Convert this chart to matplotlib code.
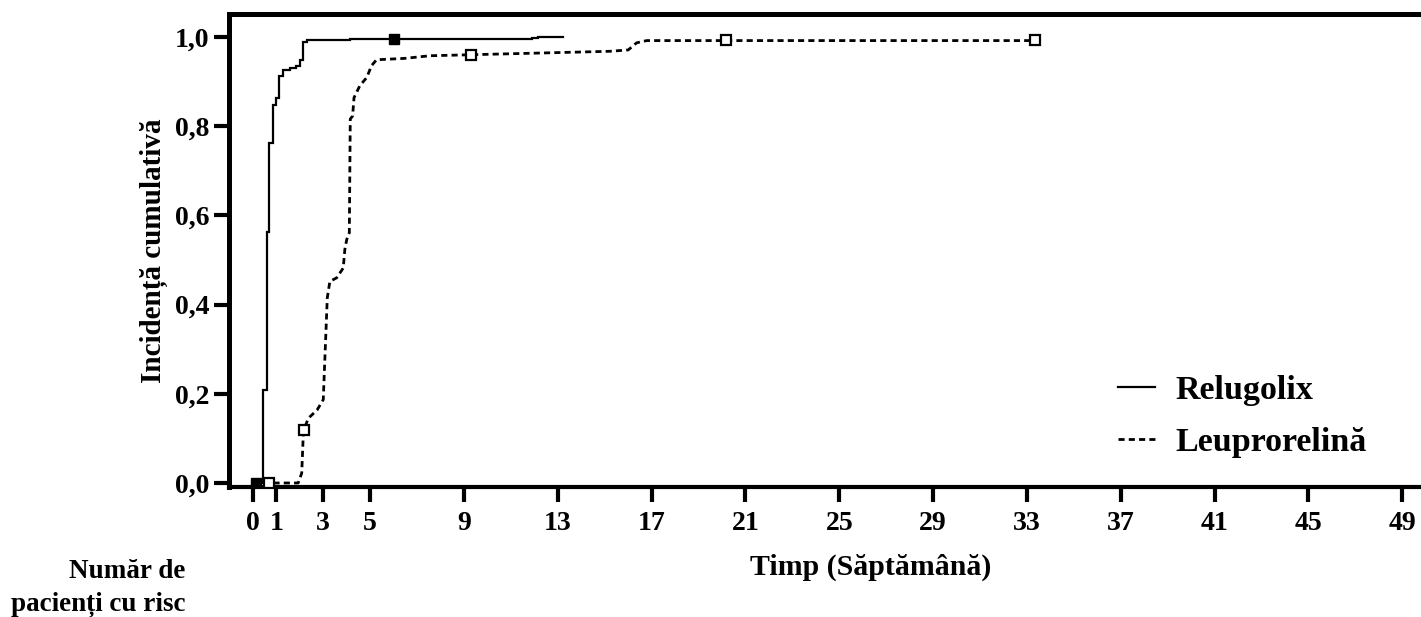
import matplotlib
matplotlib.use("Agg")
import matplotlib.pyplot as plt
import numpy as np

# ---- data (weeks, cumulative incidence) ----
relugolix_t = [0, 0.41, 0.58, 0.70, 0.87, 0.98, 1.12, 1.29, 1.58, 1.83, 2.00, 2.15, 2.32, 4.14, 11.88, 12.15, 13.2]
relugolix_y = [0, 0.209, 0.562, 0.763, 0.847, 0.864, 0.913, 0.926, 0.930, 0.934, 0.949, 0.989, 0.994, 0.995, 0.998, 1.0, 1.0]
relugolix_cens_t = [0.15, 6.0]
relugolix_cens_y = [0.0, 0.995]

leupro_t = [0.0, 1.93, 2.08, 2.15, 2.17, 2.36, 2.74, 3.00, 3.03, 3.17, 3.28, 3.57, 3.85, 3.92, 4.00, 4.11,
            4.15, 4.25, 4.31, 4.56, 4.85, 5.06, 5.27, 6.45, 7.55, 12.17, 15.22, 16.0, 16.36, 16.79, 33.35]
leupro_y = [0.0, 0.0, 0.022, 0.112, 0.119, 0.145, 0.164, 0.187, 0.229, 0.415, 0.452, 0.460, 0.482, 0.524, 0.546, 0.561,
            0.816, 0.823, 0.864, 0.891, 0.909, 0.936, 0.949, 0.952, 0.958, 0.964, 0.968, 0.971, 0.987, 0.992, 0.992]
leupro_cens_t = [0.7, 2.17, 9.3, 20.17, 33.35]
leupro_cens_y = [0.0, 0.119, 0.960, 0.994, 0.994]

xticks = [0, 1, 3, 5, 9, 13, 17, 21, 25, 29, 33, 37, 41, 45, 49]
yticks = [0.0, 0.2, 0.4, 0.6, 0.8, 1.0]
ytick_labels = ["0,0", "0,2", "0,4", "0,6", "0,8", "1,0"]
series_labels = ["Relugolix", "Leuprorelină"]

plt.rcParams['font.family'] = ['Liberation Serif', 'DejaVu Serif']
plt.rcParams['font.weight'] = 'bold'

fig = plt.figure(figsize=(14.21, 6.17), dpi=100)
ax = fig.add_axes([229/1421, 130/617, 1 - 229/1421, (487-14)/617])

l1, = ax.plot(relugolix_t, relugolix_y, drawstyle='steps-post', color='black', lw=1.6, solid_joinstyle='miter')
ax.plot(relugolix_cens_t, relugolix_cens_y, ls='none', marker='s', ms=6.5, mfc='black', mec='black', zorder=5)

l2, = ax.plot(leupro_t, leupro_y, color='black', lw=2.0, ls=(0, (2.2, 1.5)))
ax.plot(leupro_cens_t, leupro_cens_y, ls='none', marker='s', ms=6.5, mfc='white', mec='black', mew=1.6, zorder=5)

ax.set_xlim(-1.02, 49.8)
ax.set_ylim(-0.009, 1.0516)
ax.set_xticks(xticks)
ax.set_xticklabels([str(v) for v in xticks])
ax.set_yticks(yticks)
ax.set_yticklabels(ytick_labels)

for s in ['left', 'top']:
    ax.spines[s].set_linewidth(3.6)
ax.spines['bottom'].set_linewidth(3.0)
ax.spines['right'].set_visible(False)

ax.tick_params(axis='both', direction='out', length=11, width=3, labelsize=20, colors='black')
ax.tick_params(axis='x', pad=6)
ax.tick_params(axis='y', pad=3)
for lab in ax.get_xticklabels() + ax.get_yticklabels():
    lab.set_fontweight('bold')

ax.set_ylabel("Incidență cumulativă", fontsize=21, fontweight='bold', labelpad=5)
ax.set_xlabel("Timp (Săptămână)", fontsize=21.5, fontweight='bold', labelpad=14)
ax.xaxis.set_label_coords(0.538, -0.14)

fig.text(185/1421, 1 - 588/617, "Număr de\npacienți cu risc", ha='right', va='center',
         fontsize=19.5, fontweight='bold', linespacing=1.4)

leg = ax.legend([l1, l2], series_labels, loc='upper left', bbox_to_anchor=(0.72, 0.301),
                frameon=False, handlelength=1.1, handletextpad=0.6,
                labelspacing=0.6, prop={'family': 'Liberation Serif', 'weight': 'bold', 'size': 24.5})

fig.savefig("out.png", dpi=100)
